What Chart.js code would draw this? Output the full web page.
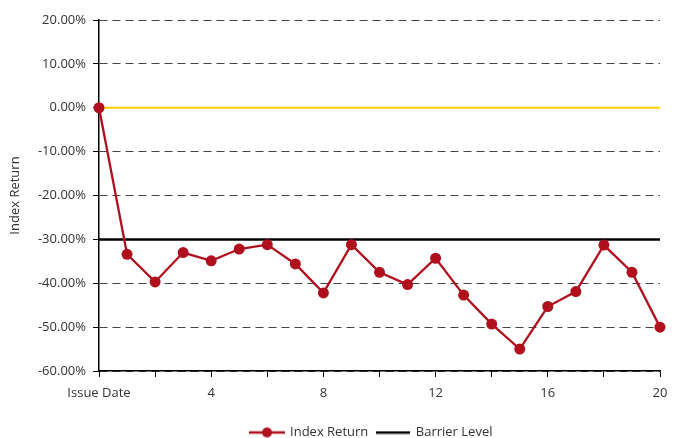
<!DOCTYPE html>
<html lang="en">
  <head>
    <meta charset="UTF-8" />
    <title>Index Return vs Barrier Level</title>
    <script src="https://cdn.jsdelivr.net/npm/chart.js"></script>
    <style>
      html, body { margin: 0; padding: 0; background: #fff; }
      #wrap { width: 684px; height: 438px; position: relative; }
    </style>
  </head>
  <body>
    <div id="wrap"><canvas id="lineChart"></canvas></div>

    <script>
      // chart data
      const categories = ['Issue Date', '1', '2', '3', '4', '5', '6', '7', '8', '9', '10',
        '11', '12', '13', '14', '15', '16', '17', '18', '19', '20'];
      const indexReturn = [0, -33.4, -39.7, -33.0, -34.9, -32.2, -31.2, -35.6, -42.2, -31.2, -37.5,
        -40.3, -34.3, -42.7, -49.3, -55.0, -45.3, -41.9, -31.3, -37.5, -50.0];
      const barrierLevel = [-30, -30, -30, -30, -30, -30, -30, -30, -30, -30, -30,
        -30, -30, -30, -30, -30, -30, -30, -30, -30, -30];
      const zeroLine = [0, 0, 0, 0, 0, 0, 0, 0, 0, 0, 0,
        0, 0, 0, 0, 0, 0, 0, 0, 0, 0];
      const yTicks = { min: -60, max: 20, step: 10 };

      const red = '#B0101E';
      const textColor = '#333333';

      // legend symbols
      function lineSymbol(w, h, color, width, dot) {
        const c = document.createElement('canvas');
        c.width = w; c.height = h;
        const g = c.getContext('2d');
        g.strokeStyle = color;
        g.lineWidth = width;
        g.beginPath();
        g.moveTo(0, h / 2);
        g.lineTo(w, h / 2);
        g.stroke();
        if (dot) {
          g.fillStyle = color;
          g.beginPath();
          g.arc(w / 2, h / 2, dot, 0, Math.PI * 2);
          g.fill();
        }
        return c;
      }
      const indexSymbol = lineSymbol(36, 12, red, 2.3, 5);
      const barrierSymbol = lineSymbol(34, 4, '#000', 2.5, 0);

      // nudge the legend to where the original sits
      const legendShift = {
        id: 'legendShift',
        afterLayout(chart) {
          const lg = chart.legend;
          lg.left -= 8; lg.right -= 8;
          lg.top += 11; lg.bottom += 11;
        }
      };

      const ctx = document.getElementById('lineChart');
      new Chart(ctx, {
        type: 'line',
        data: {
          labels: categories,
          datasets: [
            {
              label: 'Index Return',
              data: indexReturn,
              borderColor: red,
              backgroundColor: red,
              borderWidth: 2.3,
              pointRadius: 5.5,
              pointHoverRadius: 5.5,
              pointBorderWidth: 0,
              tension: 0,
              clip: false
            },
            {
              label: 'Barrier Level',
              data: barrierLevel,
              borderColor: '#000',
              backgroundColor: '#000',
              borderWidth: 2.5,
              pointRadius: 0
            },
            {
              label: 'zero',
              data: zeroLine,
              borderColor: '#FFCC00',
              backgroundColor: '#FFCC00',
              borderWidth: 2,
              pointRadius: 0
            }
          ]
        },
        options: {
          responsive: true,
          maintainAspectRatio: false,
          animation: false,
          layout: { padding: { top: 20, right: 24, left: 0, bottom: 0 } },
          plugins: {
            tooltip: { enabled: false },
            legend: {
              position: 'bottom',
              fullSize: false,
              labels: {
                usePointStyle: true,
                pointStyleWidth: 33,
                color: textColor,
                font: { family: 'Open Sans', size: 13 },
                padding: 8,
                generateLabels: function (chart) {
                  const items = Chart.defaults.plugins.legend.labels.generateLabels(chart);
                  return items.filter(it => it.datasetIndex < 2).map(it => {
                    it.pointStyle = it.datasetIndex === 0 ? indexSymbol : barrierSymbol;
                    return it;
                  });
                }
              }
            }
          },
          scales: {
            x: {
              offset: false,
              afterFit: function (scale) { scale.height = 36; },
              grid: {
                drawOnChartArea: false,
                drawTicks: true,
                tickLength: 6,
                tickColor: c => (c.index % 2 === 0 ? '#000' : 'rgba(0,0,0,0)')
              },
              border: { color: '#000', width: 1.5 },
              ticks: {
                autoSkip: false,
                maxRotation: 0,
                padding: 8,
                color: textColor,
                font: { family: 'Open Sans', size: 13 },
                callback: function (v, i) { return i % 4 === 0 ? categories[i] : ''; }
              }
            },
            y: {
              min: yTicks.min,
              max: yTicks.max,
              afterFit: function (scale) { scale.width = 99; },
              grid: {
                color: '#444',
                lineWidth: 1,
                tickLength: 6,
                tickColor: '#000'
              },
              border: { color: '#000', width: 1.5, dash: [8, 5] },
              ticks: {
                stepSize: yTicks.step,
                padding: 7,
                color: textColor,
                font: { family: 'Open Sans', size: 13 },
                callback: v => v.toFixed(2) + '%'
              },
              title: {
                display: true,
                text: 'Index Return',
                color: textColor,
                font: { family: 'Open Sans', size: 13 },
                padding: { top: 7, bottom: 0 }
              }
            }
          }
        },
        plugins: [legendShift]
      });
    </script>
  </body>
</html>
